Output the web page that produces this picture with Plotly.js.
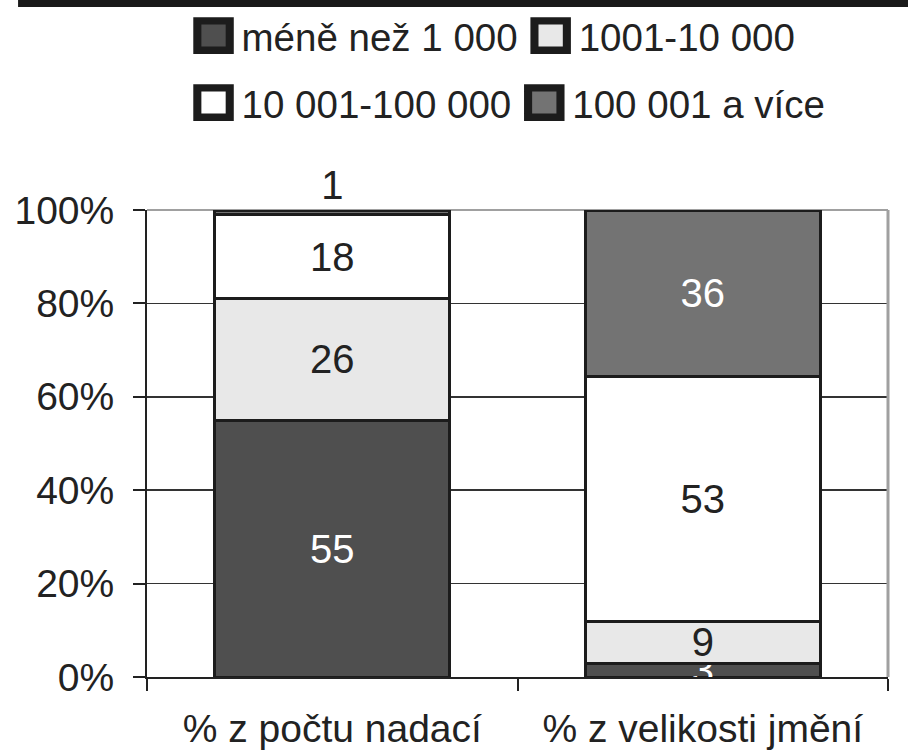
<!DOCTYPE html>
<html>
<head>
<meta charset="utf-8">
<script src="https://cdn.plot.ly/plotly-3.0.1.min.js"></script>
<style>
html,body{margin:0;padding:0;background:#fff;}
#chart{width:908px;height:752px;}
</style>
</head>
<body>
<div id="chart"></div>
<script>
// Data
const categories = ['% z počtu nadací', '% z velikosti jmění'];
const seriesNames = ['méně než 1 000', '1001-10 000', '10 001-100 000', '100 001 a více'];
const lessThan1000 = [55, 3];
const from1001to10000 = [26, 9];
const from10001to100000 = [18, 53];
const over100001 = [1, 36];
const yTickVals = [0, 20, 40, 60, 80, 100];
const yTickText = ['0%', '20%', '40%', '60%', '80%', '100%'];

const FONT = 'Liberation Sans, Arial, sans-serif';
const FS = 40;
const LFS = 38.5;
const outline = {color: '#1c1c1c', width: 3};

function barTrace(name, values, fill, textColor, legendId, textPos) {
  return {
    type: 'bar',
    name: name,
    x: categories,
    y: values,
    text: values.map(String),
    texttemplate: '%{text}',
    textposition: textPos || 'inside',
    insidetextanchor: 'middle',
    textangle: 0,
    constraintext: 'none',
    cliponaxis: false,
    textfont: {family: FONT, size: FS, color: textColor},
    outsidetextfont: {family: FONT, size: FS, color: '#222'},
    marker: {color: fill, line: outline},
    legend: legendId,
    hoverinfo: 'none'
  };
}

const traces = [
  barTrace(seriesNames[0], lessThan1000, '#4f4f4f', '#ffffff', 'legend'),
  barTrace(seriesNames[1], from1001to10000, '#e8e8e8', '#222222', 'legend'),
  barTrace(seriesNames[2], from10001to100000, '#ffffff', '#222222', 'legend2'),
  barTrace(seriesNames[3], over100001, '#737373', '#ffffff', 'legend2', ['outside', 'inside'])
];

const legendCommon = {
  orientation: 'h', xanchor: 'left', yanchor: 'middle',
  traceorder: 'normal', font: {family: FONT, size: LFS, color: '#222'},
  itemwidth: 46, bgcolor: 'rgba(0,0,0,0)'
};

const layout = {
  width: 908,
  height: 752,
  margin: {l: 147, r: 20, t: 210, b: 75, autoexpand: false},
  paper_bgcolor: '#ffffff',
  plot_bgcolor: '#ffffff',
  font: {family: FONT, size: FS, color: '#222'},
  barmode: 'stack',
  barnorm: 'percent',
  bargap: 0.366,
  showlegend: true,
  legend: Object.assign({}, legendCommon, {x: 0.052, y: 1.3726}),
  legend2: Object.assign({}, legendCommon, {x: 0.052, y: 1.229}),
  xaxis: {
    type: 'category',
    showgrid: false,
    showline: true, linecolor: '#222', linewidth: 2,
    ticks: 'outside', tickson: 'boundaries', ticklen: 12, tickwidth: 2, tickcolor: '#222',
    tickfont: {family: FONT, size: 39, color: '#222'},
    ticklabelstandoff: 16,
    zeroline: false,
    fixedrange: true
  },
  yaxis: {
    range: [0, 100],
    tickvals: yTickVals,
    ticktext: yTickText,
    showgrid: true, gridcolor: '#333', gridwidth: 1.5,
    showline: true, linecolor: '#222', linewidth: 2,
    ticks: 'outside', ticklen: 12, tickwidth: 2, tickcolor: '#222',
    tickfont: {family: FONT, size: 39, color: '#222'},
    ticklabelstandoff: 11,
    zeroline: false,
    fixedrange: true
  },
  shapes: [
    {type: 'line', xref: 'paper', yref: 'paper', x0: 0, x1: 1, y0: 1, y1: 1, line: {color: '#a0a0a0', width: 2}, layer: 'below'},
    {type: 'line', xref: 'paper', yref: 'paper', x0: 1, x1: 1, y0: 0, y1: 1, line: {color: '#a0a0a0', width: 3}},
    {type: 'rect', xref: 'paper', yref: 'paper', x0: -0.174, x1: 1.03, y0: 1.4347, y1: 1.46, fillcolor: '#1a1a1a', line: {width: 0}}
  ]
};

Plotly.newPlot('chart', traces, layout, {displayModeBar: false, staticPlot: true}).then(function(gd) {
  gd.querySelectorAll('.legendpoints path').forEach(function(p) {
    const t = p.getAttribute('transform') || '';
    p.setAttribute('transform', t + ' scale(2.7,2.45)');
  });
});
</script>
</body>
</html>
